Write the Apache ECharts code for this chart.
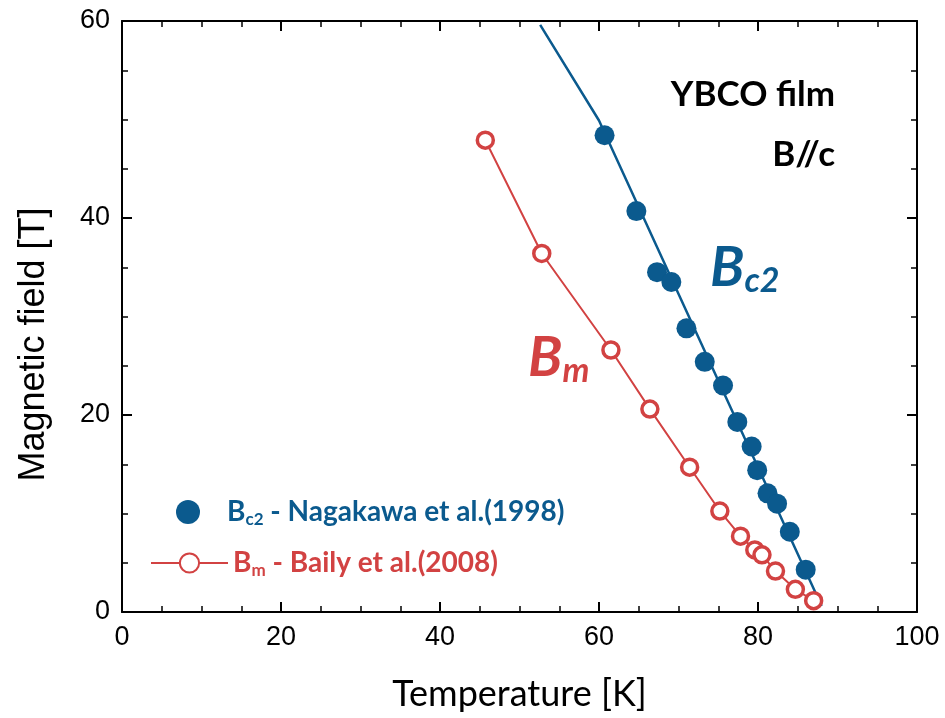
<!DOCTYPE html>
<html><head><meta charset="utf-8">
<script src="https://cdn.jsdelivr.net/npm/echarts@6/dist/echarts.min.js"></script>
<style>html,body{margin:0;padding:0;background:#fff}#c{width:945px;height:718px}</style>
</head><body><div id="c"></div>
<script>
const bc2T = [60.7, 64.7, 67.3, 69.1, 71.0, 73.3, 75.6, 77.4, 79.2, 79.9, 81.2, 82.4, 84.0, 86.0];
const bc2B = [48.4, 40.7, 34.5, 33.5, 28.8, 25.4, 23.0, 19.3, 16.8, 14.4, 12.05, 11.0, 8.15, 4.3];
const bmT = [45.7, 52.8, 61.5, 66.4, 71.4, 75.2, 77.8, 79.6, 80.5, 82.2, 84.7, 87.0];
const bmB = [47.9, 36.4, 26.6, 20.6, 14.7, 10.25, 7.7, 6.3, 5.8, 4.16, 2.3, 1.15];
const fitT = [52.6, 60.0, 88.0];
const fitB = [59.6, 49.9, 0.6];
const xTicks = [0, 20, 40, 60, 80, 100];
const yTicks = [0, 20, 40, 60];

const BLUE = '#0b5a8e', RED = '#d24242';
const zip = (a, b) => a.map((v, i) => [v, b[i]]);
const chart = echarts.init(document.getElementById('c'), null, {renderer: 'canvas'});

const axisCommon = () => ({
  axisLine: {show: true, onZero: false, lineStyle: {color: '#000', width: 2}},
  axisTick: {show: true, inside: true, length: 10, lineStyle: {color: '#000', width: 2}},
  minorTick: {show: true, splitNumber: 4, length: 6, lineStyle: {color: '#000', width: 1.5}},
  splitLine: {show: false}
});

chart.setOption({
  animation: false,
  grid: {left: 122, right: 28, top: 21, bottom: 106, containLabel: false},
  xAxis: [
    Object.assign({type: 'value', min: xTicks[0], max: xTicks[xTicks.length-1], interval: 20, position: 'bottom',
      name: 'Temperature [K]', nameLocation: 'middle', nameGap: 64,
      nameTextStyle: {fontFamily: 'Lato', fontSize: 36, color: '#000'},
      axisLabel: {margin: 12, fontFamily: 'Liberation Sans', fontSize: 27, color: '#000'}}, axisCommon()),
    Object.assign({type: 'value', min: 0, max: 100, interval: 20, position: 'top', axisLabel: {show: false}}, axisCommon())
  ],
  yAxis: [
    Object.assign({type: 'value', min: yTicks[0], max: yTicks[yTicks.length-1], interval: 20, position: 'left',
      name: 'Magnetic field [T]', nameLocation: 'middle', nameGap: 70, nameRotate: 90,
      nameTextStyle: {fontFamily: 'Liberation Sans', fontSize: 36, color: '#000', padding: [0, 56, 0, 0]},
      axisLabel: {margin: 12, fontFamily: 'Liberation Sans', fontSize: 27, color: '#000'}}, axisCommon()),
    Object.assign({type: 'value', min: 0, max: 60, interval: 20, position: 'right', axisLabel: {show: false}}, axisCommon())
  ],
  legend: [
    {data: ['Bc2'], left: 176, top: 498, itemWidth: 24, itemHeight: 24, itemGap: 0, padding: 0,
     formatter: () => '{b|B}{s|c2}{b| - Nagakawa et al.(1998)}',
     textStyle: {padding: [0, 0, 0, 22], rich: {
       b: {fontFamily: 'Lato', fontWeight: 'bold', fontSize: 28, color: BLUE},
       s: {fontFamily: 'Lato', fontWeight: 'bold', fontSize: 17, color: BLUE, padding: [16, 0, 0, 0]}}}},
    {data: ['Bm'], left: 150, top: 549, itemWidth: 77, itemHeight: 24, padding: 0,
     formatter: () => '{b|B}{s|m}{b| - Baily et al.(2008)}',
     textStyle: {padding: [0, 0, 0, 0], rich: {
       b: {fontFamily: 'Lato', fontWeight: 'bold', fontSize: 28, color: RED},
       s: {fontFamily: 'Lato', fontWeight: 'bold', fontSize: 17, color: RED, padding: [16, 0, 0, 0]}}}}
  ],
  series: [
    {name: 'fit', type: 'line', data: zip(fitT, fitB), showSymbol: false, symbol: 'none',
     lineStyle: {color: BLUE, width: 2.5}, z: 2},
    {name: 'Bc2', type: 'scatter', data: zip(bc2T, bc2B), symbol: 'circle', symbolSize: 20,
     itemStyle: {color: BLUE, opacity: 1}, z: 3},
    {name: 'Bm', type: 'line', data: zip(bmT, bmB), symbol: 'circle', symbolSize: 16, showSymbol: true,
     lineStyle: {color: RED, width: 2}, itemStyle: {color: '#fff', borderColor: RED, borderWidth: 3.5}, z: 4}
  ],
  graphic: [
    {type: 'text', right: 110, top: 77, style: {text: 'YBCO film', fontFamily: 'Lato', fontWeight: 'bold', fontSize: 35, fill: '#000'}},
    {type: 'text', right: 110, top: 137, style: {text: 'B//c', fontFamily: 'Lato', fontWeight: 'bold', fontSize: 35, fill: '#000'}},
    {type: 'text', left: 710, top: 240, style: {text: '{b|B}{s|c2}', rich: {
      b: {fontFamily: 'Lato', fontWeight: 'bold', fontStyle: 'italic', fontSize: 56, fill: BLUE},
      s: {fontFamily: 'Lato', fontWeight: 'bold', fontStyle: 'italic', fontSize: 34, fill: BLUE, padding: [26, 0, 0, 0]}}}},
    {type: 'text', left: 528, top: 330, style: {text: '{b|B}{s|m}', rich: {
      b: {fontFamily: 'Lato', fontWeight: 'bold', fontStyle: 'italic', fontSize: 56, fill: RED},
      s: {fontFamily: 'Lato', fontWeight: 'bold', fontStyle: 'italic', fontSize: 34, fill: RED, padding: [26, 0, 0, 0]}}}}
  ]
});
</script></body></html>
